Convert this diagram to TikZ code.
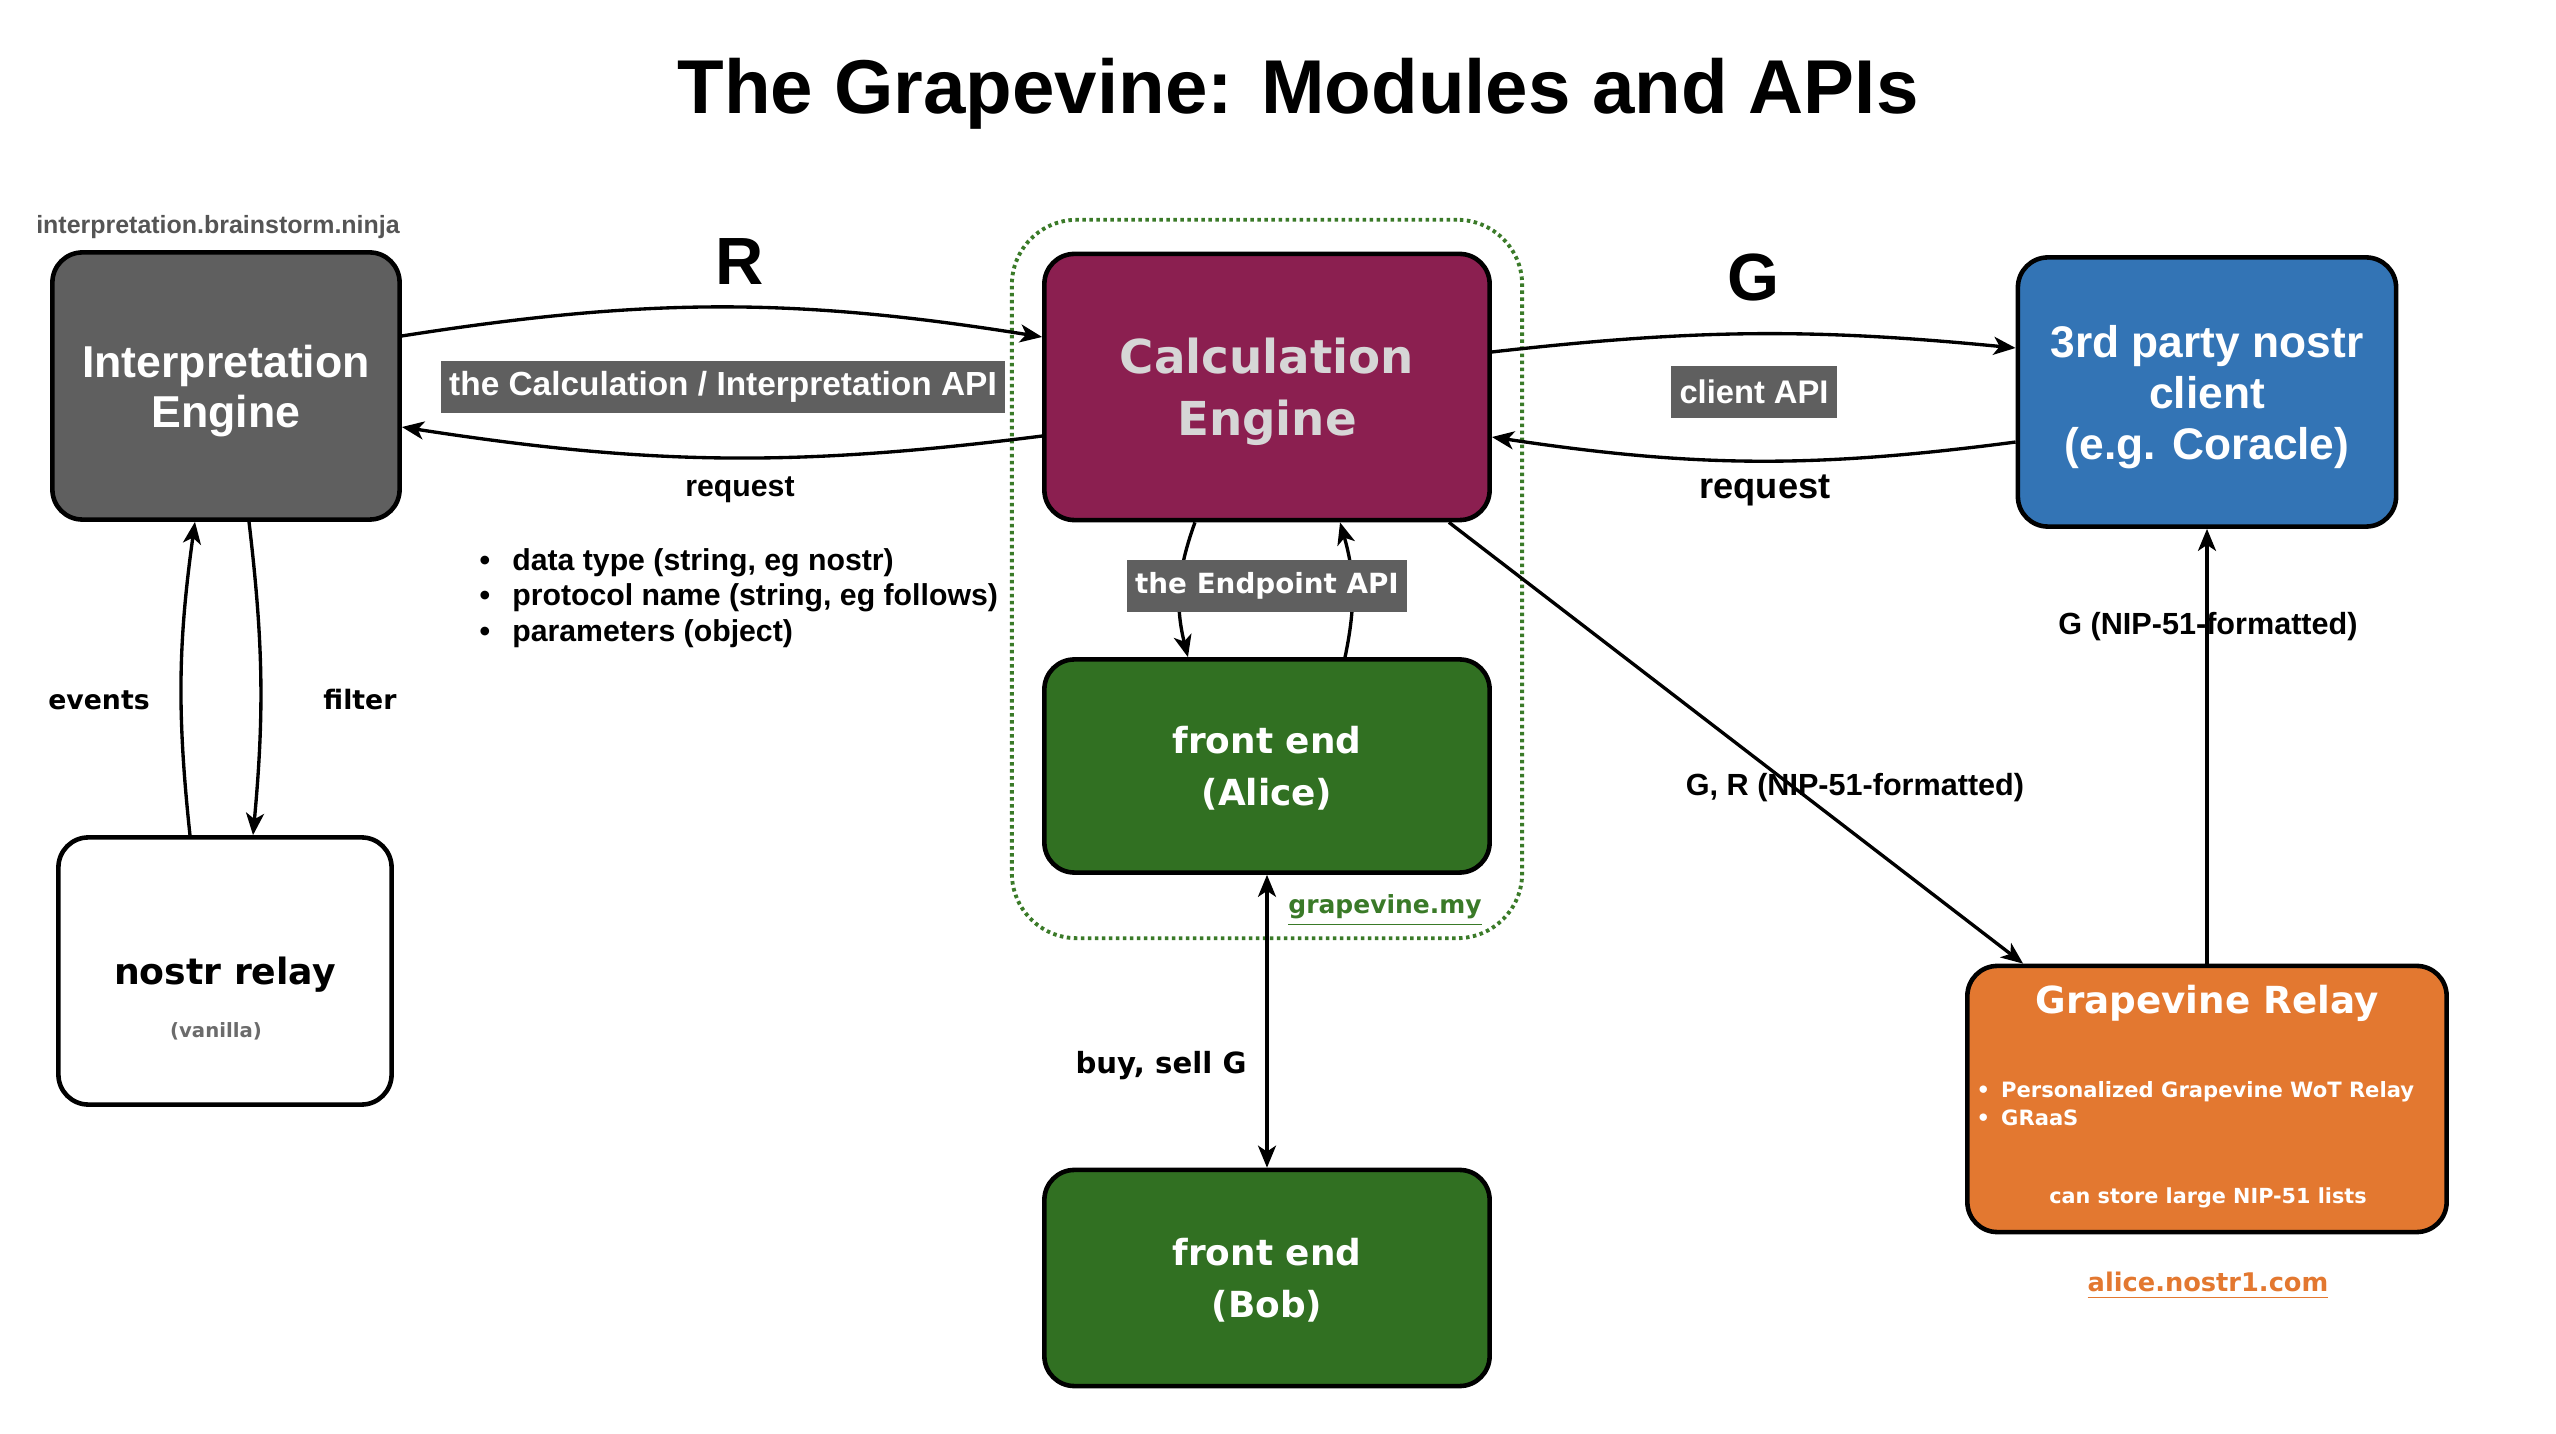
\documentclass[tikz,border=0pt]{standalone}
\usepackage{fontspec}
\setmainfont{Liberation Sans}
\newfontfamily\roundfont{DejaVu Sans}
\usetikzlibrary{arrows.meta,positioning}

\definecolor{enginegray}{HTML}{5F5F5F}
\definecolor{calcred}{HTML}{8B1F50}
\definecolor{calctext}{HTML}{D6D6D6}
\definecolor{frontgreen}{HTML}{317022}
\definecolor{clientblue}{HTML}{3374B5}
\definecolor{relayorange}{HTML}{E37830}
\definecolor{urlgray}{HTML}{555555}
\definecolor{vanillagray}{HTML}{6B6B6B}
\definecolor{sitegreen}{HTML}{3A7A28}

\newcommand{\txtsize}[2]{\fontsize{#1}{#2}\selectfont}

\begin{document}
\begin{tikzpicture}[x=0.01cm, y=-0.01cm,
    >={Stealth[length=2.2mm, width=1.8mm, inset=0.6mm]},
    module/.style={draw, line width=1.3pt, rounded corners=0.3cm, align=center, text=white, text depth=0pt},
    api/.style={fill=enginegray, text=white, inner sep=0pt},
    flow/.style={->, line width=0.95pt},
    lbl/.style={inner sep=0pt}]
        \useasboundingbox (0,0) rectangle (2556,1434);

        \node[lbl, anchor=base, font={\bfseries\txtsize{21.7}{26}}] (title) at (1298,114) {The Grapevine: Modules and APIs};

        % grapevine.my site
        \node[draw=sitegreen, line width=1.1pt, dash pattern=on 0.035cm off 0.035cm, rounded corners=0.65cm, minimum width=5.1cm, minimum height=7.18cm] (site) at (1267,579) {};
        \node[lbl, anchor=base, text=sitegreen, font={\roundfont\bfseries\txtsize{7.1}{9}}] (siteurl) at (1385,914) {\underline{grapevine.my}};

        % modules
        \node[module, fill=enginegray, minimum width=3.47cm, minimum height=2.67cm, font={\bfseries\txtsize{12.7}{14.2}}] (interp) at (226,386) {Interpretation\\Engine};
        \node[lbl, text=urlgray, font={\bfseries\txtsize{7.1}{9}}] (interpurl) at (218,227) {interpretation.brainstorm.ninja};
        \node[module, fill=white, text=black, minimum width=3.33cm, minimum height=2.67cm, font={\roundfont\bfseries\txtsize{10.3}{12}}] (nostr) at (225,971) {nostr relay};
        \node[lbl, text=vanillagray, font={\roundfont\bfseries\txtsize{5.6}{7}}] (vanilla) at (216,1031) {(vanilla)};

        \node[module, fill=calcred, text=calctext, minimum width=4.45cm, minimum height=2.66cm, font={\roundfont\bfseries\txtsize{13.3}{17.6}}] (calc) at (1267,387) {Calculation\\Engine};
        \node[module, fill=frontgreen, minimum width=4.45cm, minimum height=2.13cm, font={\roundfont\bfseries\txtsize{10.2}{15}}] (alice) at (1267,766) {front end\\(Alice)};
        \node[module, fill=frontgreen, minimum width=4.45cm, minimum height=2.16cm, font={\roundfont\bfseries\txtsize{10.2}{15}}] (bob) at (1267,1278) {front end\\(Bob)};

        \node[module, fill=clientblue, minimum width=3.78cm, minimum height=2.69cm, font={\bfseries\txtsize{12.6}{14.5}}] (client) at (2207,392) {3rd party nostr\\client\\(e.g. Coracle)};

        \node[module, fill=relayorange, minimum width=4.79cm, minimum height=2.66cm] (grelay) at (2207,1099) {};
        \node[lbl, text=white, font={\roundfont\bfseries\txtsize{10.6}{12}}] (grtitle) at (2207,1003) {Grapevine Relay};
        \node[lbl, text=white, align=left, anchor=west, font={\roundfont\bfseries\txtsize{6}{7.9}}] (grlist) at (1976,1104) {\textbullet\hspace{0.11cm}Personalized Grapevine WoT Relay\\\textbullet\hspace{0.11cm}GRaaS};
        \node[lbl, text=white, font={\roundfont\bfseries\txtsize{5.9}{7}}] (grnote) at (2208,1198) {can store large NIP-51 lists};
        \node[lbl, anchor=base, text=relayorange, font={\roundfont\bfseries\txtsize{7.3}{9}}] (grurl) at (2208,1292) {\underline{alice.nostr1.com}};

        % connectors
        \draw[flow] ([yshift=0.5cm]interp.east) to[bend left=9] ([yshift=0.5cm]calc.west);
        \draw[flow] ([yshift=-0.49cm]calc.west) to[bend left=8] ([yshift=-0.41cm]interp.east);
        \draw[flow] ([yshift=0.35cm]calc.east) to[bend left=6] ([yshift=0.44cm]client.west);
        \draw[flow] ([yshift=-0.5cm]client.west) to[bend left=8] ([yshift=-0.5cm]calc.east);

        \draw[flow] ([xshift=-0.72cm]calc.south) to[bend right=17] ([xshift=-0.79cm]alice.north);
        \draw[flow] ([xshift=0.78cm]alice.north) to[bend right=14] ([xshift=0.73cm]calc.south);

        \draw[flow] ([xshift=-0.35cm]nostr.north) to[bend left=7] ([xshift=-0.31cm]interp.south);
        \draw[flow] ([xshift=0.23cm]interp.south) to[bend left=6] ([xshift=0.28cm]nostr.north);

        \draw[flow] ([xshift=-0.43cm]calc.south east) -- ([xshift=0.58cm]grelay.north west);
        \draw[flow] (grelay.north) -- (client.south);
        \draw[flow, <->] (alice.south) -- (bob.north);

        % connector labels
        \node[lbl, font={\bfseries\txtsize{19}{22}}] (rlbl) at (740,262) {R};
        \node[lbl, font={\bfseries\txtsize{19}{22}}] (glbl) at (1753,278) {G};
        \node[api, minimum width=5.63cm, minimum height=0.51cm, font={\bfseries\txtsize{9.5}{11}}] (calcapi) at (723,387) {the Calculation / Interpretation API};
        \node[api, minimum width=1.66cm, minimum height=0.52cm, font={\bfseries\txtsize{9.3}{11}}] (clientapi) at (1754,392) {client API};
        \node[api, minimum width=2.8cm, minimum height=0.51cm, font={\roundfont\bfseries\txtsize{7.9}{10}}] (endpointapi) at (1267,586) {the Endpoint API};
        \node[lbl, font={\bfseries\txtsize{8.6}{10}}] (reqleft) at (740,490) {request};
        \node[lbl, font={\bfseries\txtsize{10.3}{12}}] (reqright) at (1765,490) {request};
        \node[lbl, align=left, anchor=west, font={\bfseries\txtsize{8.6}{10.1}}] (params) at (479,598) {\textbullet\hspace{0.22cm}data type (string, eg nostr)\\\textbullet\hspace{0.22cm}protocol name (string, eg follows)\\\textbullet\hspace{0.22cm}parameters (object)};
        \node[lbl, font={\roundfont\bfseries\txtsize{7.6}{9}}] (events) at (99,700) {events};
        \node[lbl, font={\roundfont\bfseries\txtsize{7.6}{9}}] (filter) at (360,700) {filter};
        \node[lbl, font={\roundfont\bfseries\txtsize{8.3}{10}}] (buysell) at (1161,1066) {buy, sell G};
        \node[lbl, font={\bfseries\txtsize{8.7}{10}}] (gfmt) at (2208,627) {G (NIP-51-formatted)};
        \node[lbl, font={\bfseries\txtsize{8.7}{10}}] (grfmt) at (1855,788) {G, R (NIP-51-formatted)};
\end{tikzpicture}
\end{document}
